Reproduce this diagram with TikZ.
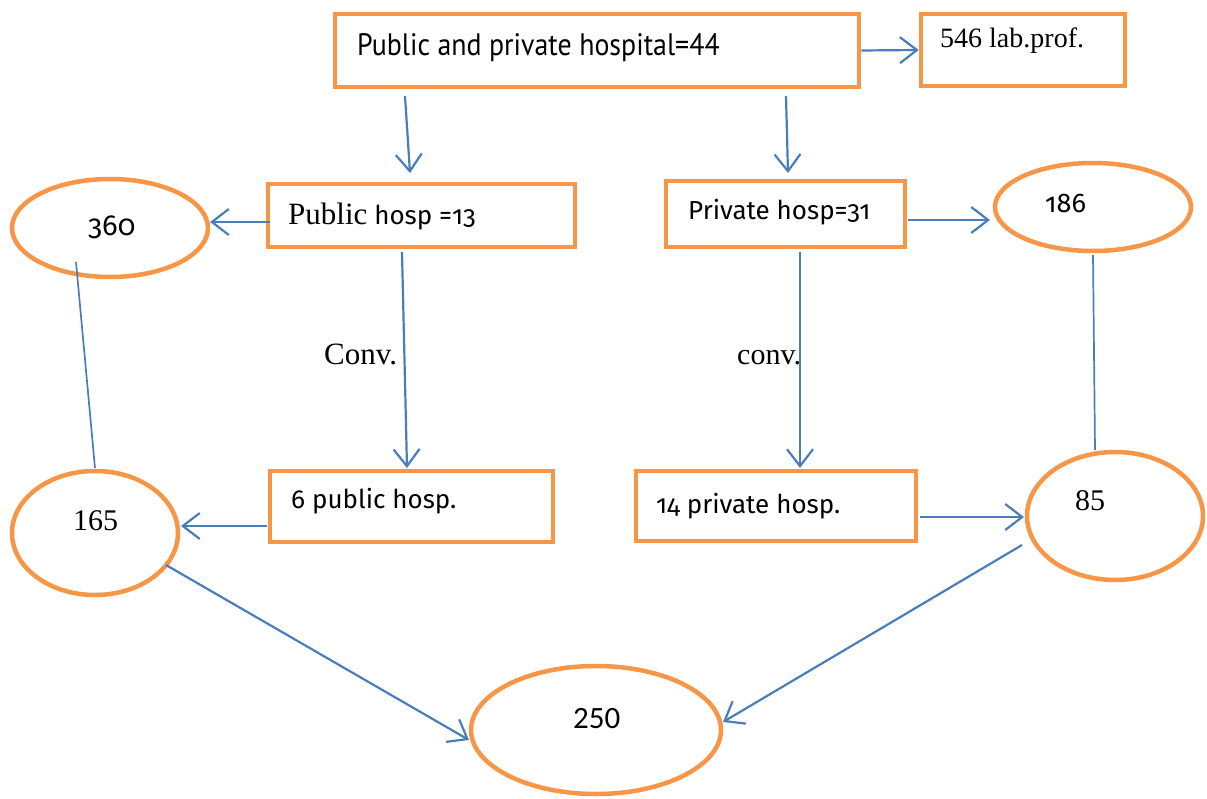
\documentclass[tikz,border=0pt]{standalone}
\usepackage{fontspec}
\usetikzlibrary{arrows.meta,shapes.geometric}
\newfontfamily\candf[Numbers=OldStyle]{Fira Sans}
\newfontfamily\tnrf{Liberation Serif}
\newfontfamily\calf{Carlito}
\newfontfamily\narrowf[FakeStretch=0.9]{PT Sans}
\definecolor{boxorange}{HTML}{F79646}
\definecolor{lineblue}{HTML}{4A7EBB}
\tikzset{
  box/.style={draw=boxorange, line width=4.5pt, rectangle, inner sep=0pt},
  oval/.style={draw=boxorange, line width=4.5pt, ellipse, inner sep=0pt},
  txt/.style={inner sep=0pt, anchor=base west},
  arr/.style={draw=lineblue, line width=2.2pt, -{Straight Barb[length=17pt,width=26pt,line width=2.2pt]}},
  plain/.style={draw=lineblue, line width=1.7pt},
}
\begin{document}
\begin{tikzpicture}[x=1pt,y=-1pt]
\useasboundingbox (0,0) rectangle (1207,799);
% boxes
\node[box, minimum width=524pt, minimum height=73pt] (top) at (597,50.5) {};
\node[box, minimum width=204pt, minimum height=72pt] (lab) at (1023,50) {};
\node[box, minimum width=307pt, minimum height=63pt] (pub) at (421.5,215.5) {};
\node[box, minimum width=239pt, minimum height=66pt] (priv) at (785.5,214) {};
\node[box, minimum width=283pt, minimum height=71pt] (pubsix) at (411.5,506.5) {};
\node[box, minimum width=280pt, minimum height=70pt] (privft) at (776,506) {};
% ellipses
\node[oval, minimum width=196pt, minimum height=98pt] (e360) at (110,228) {};
\node[oval, minimum width=196pt, minimum height=88pt] (e186) at (1093,207) {};
\node[oval, minimum width=166pt, minimum height=124pt] (e165) at (95,533) {};
\node[oval, minimum width=176pt, minimum height=128pt] (e85) at (1115,516) {};
\node[oval, minimum width=250pt, minimum height=128pt] (e250) at (596,730) {};
% texts
\node[txt] (ttop) at (357,56) {\narrowf\fontsize{31}{36}\selectfont Public and private hospital=44};
\node[txt] (tlab) at (940,48) {\tnrf\fontsize{28}{32}\selectfont 546 lab.prof.};
\node[txt] (tpub) at (288,225) {\tnrf\fontsize{31}{36}\selectfont Public\candf\fontsize{26}{31}\selectfont{} hosp =13};
\node[txt] (tpriv) at (688,220) {\candf\fontsize{26}{31}\selectfont Private hosp=31};
\node[txt] (tpubsix) at (291,508) {\candf\fontsize{26}{31}\selectfont 6 public hosp.};
\node[txt] (tprivft) at (656,513) {\candf\fontsize{26}{31}\selectfont 14 private hosp.};
\node[txt] (t360) at (88,236) {\candf\fontsize{29}{34}\selectfont 360};
\node[txt] (t186) at (1045,213) {\candf\fontsize{27}{32}\selectfont 186};
\node[txt] (t165) at (73,530) {\tnrf\fontsize{30}{35}\selectfont 165};
\node[txt] (t85) at (1075,510) {\tnrf\fontsize{30}{35}\selectfont 85};
\node[txt] (t250) at (573,728) {\calf\fontsize{31}{36}\selectfont 250};
\node[txt] (conva) at (324,365) {\tnrf\fontsize{31}{36}\selectfont Conv.};
\node[txt] (convb) at (737,365) {\tnrf\fontsize{30}{35}\selectfont conv.};
% connector end points
\coordinate (a1s) at (405,96);  \coordinate (a1e) at (410,173);
\coordinate (a2s) at (786,96);  \coordinate (a2e) at (788,173);
\coordinate (a3s) at (270,222); \coordinate (a3e) at (210,222);
\coordinate (a4s) at (908,220); \coordinate (a4e) at (990,220);
\coordinate (l1s) at (76,262);  \coordinate (l1e) at (95,468);
\coordinate (l2s) at (1093,255);\coordinate (l2e) at (1095,450);
\coordinate (a5s) at (402,252); \coordinate (a5e) at (407,468);
\coordinate (a6s) at (800,252); \coordinate (a6e) at (800,468);
\coordinate (a7s) at (267,526); \coordinate (a7e) at (181,526);
\coordinate (a8s) at (920,517); \coordinate (a8e) at (1024,517);
\coordinate (a9s) at (166,565); \coordinate (a9e) at (469,740);
\coordinate (a10s) at (1022,545); \coordinate (a10e) at (723,722);
% connectors
\draw[arr] (top.east) -- (lab.west);
\draw[arr] (a1s) -- (a1e);
\draw[arr] (a2s) -- (a2e);
\draw[arr] (a3s) -- (a3e);
\draw[arr] (a4s) -- (a4e);
\draw[plain] (l1s) -- (l1e);
\draw[plain] (l2s) -- (l2e);
\draw[arr] (a5s) -- (a5e);
\draw[arr] (a6s) -- (a6e);
\draw[arr] (a7s) -- (a7e);
\draw[arr] (a8s) -- (a8e);
\draw[arr] (a9s) -- (a9e);
\draw[arr] (a10s) -- (a10e);
\end{tikzpicture}
\end{document}
